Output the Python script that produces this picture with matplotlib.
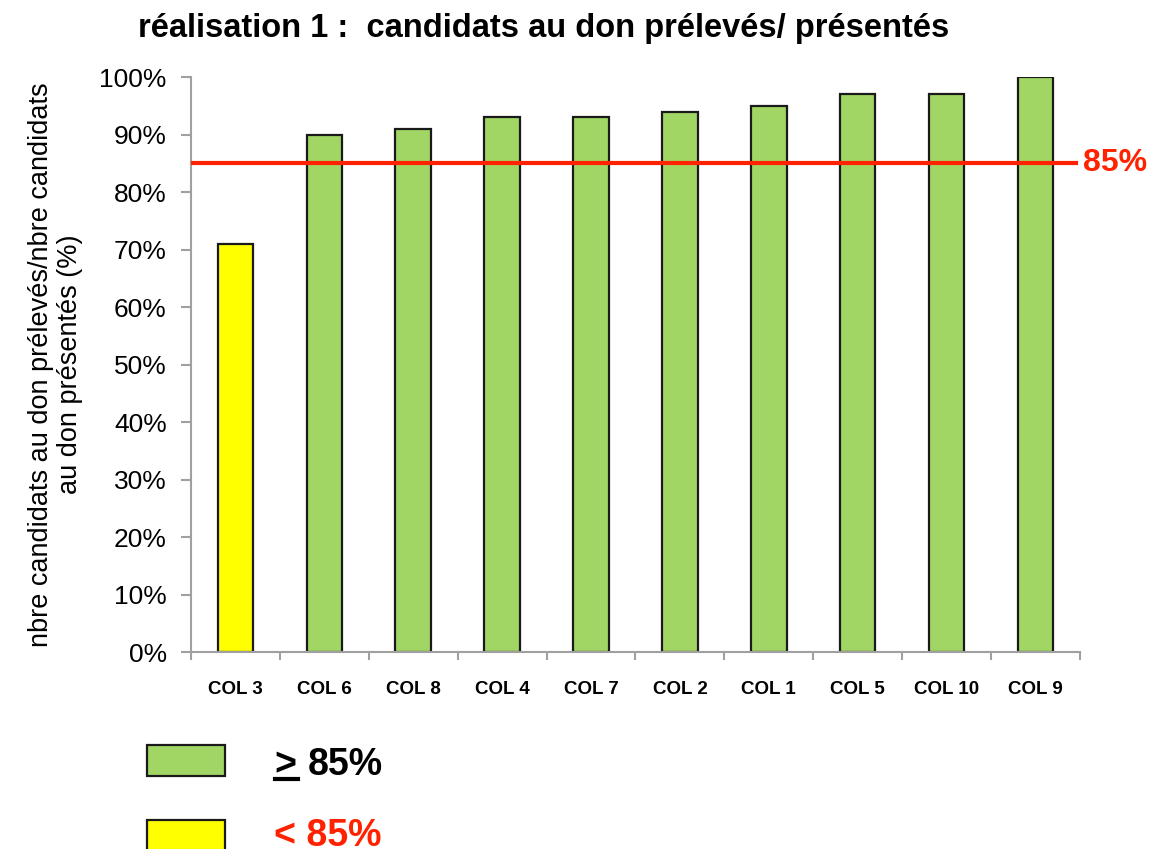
import matplotlib.pyplot as plt
from matplotlib.lines import Line2D
from matplotlib.patches import Rectangle
import numpy as np

plt.rcParams['font.family'] = ['Liberation Sans', 'DejaVu Sans']

categories = ['COL 3', 'COL 6', 'COL 8', 'COL 4', 'COL 7', 'COL 2', 'COL 1',
              'COL 5', 'COL 10', 'COL 9']
values = [71, 90, 91, 93, 93, 94, 95, 97, 97, 100]
threshold = 85
yticks = list(range(0, 101, 10))

green = '#A2D664'
yellow = '#FFFF00'
red = '#FF2200'
grey = '#A0A0A0'

fig = plt.figure(figsize=(11.66, 8.49), dpi=100)
ax = fig.add_axes([0.1638, 0.232, 0.7624, 0.6773])

x = np.arange(len(categories))
colors = [green if v >= threshold else yellow for v in values]
ax.bar(x, values, width=0.4, color=colors, edgecolor='#1a1a1a', linewidth=1.6,
       zorder=2)
ax.axhline(threshold, color=red, linewidth=3, zorder=3, xmin=0, xmax=0.995)
ax.text(1.003, threshold, '85%', transform=ax.get_yaxis_transform(),
        color=red, fontsize=23, fontweight='bold', va='center', ha='left')

ax.set_xlim(-0.5, len(categories) - 0.5)
ax.set_ylim(0, 100)
ax.set_yticks(yticks)
ax.set_yticklabels([f'{t}%' for t in yticks], fontsize=19)
ax.set_xticks(x)
ax.set_xticklabels(categories, fontsize=13.5, fontweight='bold')
ax.tick_params(axis='x', length=0, pad=21)
ax.set_xticks(np.arange(-0.5, len(categories)), minor=True)
ax.tick_params(axis='x', which='minor', length=6, color=grey, width=1.5)
ax.tick_params(axis='y', length=7, color=grey, width=1.5, pad=10.5)

for side in ['top', 'right']:
    ax.spines[side].set_visible(False)
for side in ['left', 'bottom']:
    ax.spines[side].set_color(grey)
    ax.spines[side].set_linewidth(1.5)

ax.set_ylabel('nbre candidats au don prélevés/nbre candidats\n'
              'au don présentés (%)', fontsize=19.5, labelpad=12,
              linespacing=1.15)
fig.text(0.4666, 0.966, 'réalisation 1 :  candidats au don prélevés/ présentés',
         fontsize=23.5, fontweight='bold', ha='center', va='center')

# legend
fig.patches.append(Rectangle((147 / 1166, 1 - 776 / 849), 78 / 1166, 31 / 849,
                             transform=fig.transFigure, facecolor=green,
                             edgecolor='#1a1a1a', linewidth=1.6))
fig.patches.append(Rectangle((147 / 1166, 1 - 880 / 849), 78 / 1166, 60 / 849,
                             transform=fig.transFigure, facecolor=yellow,
                             edgecolor='#1a1a1a', linewidth=1.6))
fig.text(274 / 1166, 1 - 765 / 849, '>', fontsize=27, fontweight='bold',
         va='center', ha='left')
fig.lines.append(Line2D([275 / 1166, 298 / 1166], [1 - 779 / 849, 1 - 779 / 849],
                        transform=fig.transFigure, color='black', linewidth=3))
fig.text(308 / 1166, 1 - 765 / 849, '85%', fontsize=27, fontweight='bold',
         va='center', ha='left')
fig.text(274 / 1166, 1 - 836 / 849, '< 85%', fontsize=27, fontweight='bold',
         color=red, va='center', ha='left')

fig.savefig('out.png', dpi=100)
